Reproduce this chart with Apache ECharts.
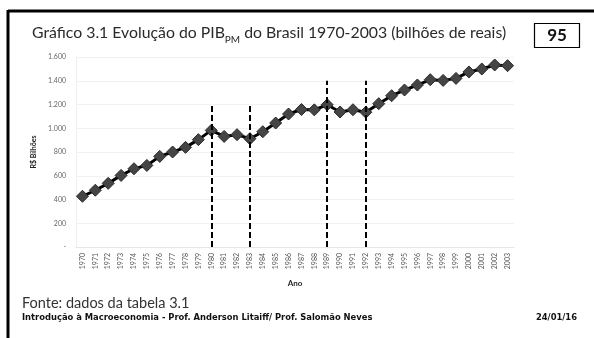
<!DOCTYPE html>
<html>
<head>
<meta charset="utf-8">
<script src="https://cdn.jsdelivr.net/npm/echarts@6/dist/echarts.min.js"></script>
<style>
  html, body { margin: 0; padding: 0; background: #fff; }
  #chart { width: 594px; height: 338px; }
</style>
</head>
<body>
<div id="chart"></div>
<script>
// PIB a preços de mercado, R$ bilhões
const anos = ['1970','1971','1972','1973','1974','1975','1976','1977','1978','1979',
  '1980','1981','1982','1983','1984','1985','1986','1987','1988','1989',
  '1990','1991','1992','1993','1994','1995','1996','1997','1998','1999',
  '2000','2001','2002','2003'];
const pib = [427, 478, 536, 603, 659, 687, 763, 800, 839, 904,
  982, 931, 946, 912, 971, 1044, 1120, 1158, 1155, 1198,
  1137, 1156, 1135, 1207, 1274, 1322, 1364, 1409, 1403, 1420,
  1474, 1499, 1533, 1527];
// Marcos verticais: [ano, altura do traço]
const marcos = [['1980', 1200], ['1983', 1200], ['1989', 1400], ['1992', 1400]];
const yTicks = { min: 0, max: 1600, step: 200 };

const font = 'Lato, "Open Sans", sans-serif';
const wide = '"DejaVu Sans", sans-serif';
const chart = echarts.init(document.getElementById('chart'), null, { renderer: 'canvas' });

function fmtMilhar(v) {
  if (v === 0) return '-';
  return String(v).replace(/\B(?=(\d{3})+(?!\d))/g, '.');
}

chart.setOption({
  animation: false,
  backgroundColor: '#fff',
  grid: { left: 76, right: 80, top: 57, bottom: 91 },
  xAxis: {
    type: 'category',
    data: anos,
    boundaryGap: true,
    name: 'Ano',
    nameLocation: 'middle',
    nameGap: 32,
    nameTextStyle: { fontFamily: font, fontSize: 8, fontWeight: 'bold', color: '#222' },
    axisLine: { lineStyle: { color: '#e6e6e6' } },
    axisTick: { show: false },
    axisLabel: { rotate: 90, interval: 0, fontFamily: font, fontSize: 7, color: '#555', margin: 6 },
    splitLine: { show: false }
  },
  yAxis: {
    type: 'value',
    min: yTicks.min, max: yTicks.max, interval: yTicks.step,
    name: 'R$ Bilhões',
    nameLocation: 'middle',
    nameGap: 33,
    nameRotate: 90,
    nameTextStyle: { fontFamily: font, fontSize: 7, fontWeight: 'bold', color: '#222' },
    axisLine: { show: true, lineStyle: { color: '#f0f0f0' } },
    axisTick: { show: false },
    axisLabel: { fontFamily: font, fontSize: 7, color: '#666', margin: 10, formatter: fmtMilhar },
    splitLine: { lineStyle: { color: '#f2f2f2', width: 1 } }
  },
  series: [{
    type: 'line',
    data: pib,
    symbol: 'diamond',
    symbolSize: 12,
    lineStyle: { color: '#000', width: 3 },
    itemStyle: { color: '#454545', borderColor: '#2a2a2a', borderWidth: 1 },
    z: 3,
    markLine: {
      silent: true,
      symbol: ['none', 'none'],
      label: { show: false },
      lineStyle: { color: '#000', width: 2, type: [6, 3] },
      data: marcos.map(m => [{ coord: [m[0], 0] }, { coord: [m[0], m[1]] }])
    }
  }],
  graphic: [
    // moldura superior e esquerda
    { type: 'line', shape: { x1: 8, y1: 11, x2: 594, y2: 11 }, style: { stroke: '#000', lineWidth: 3 } },
    { type: 'line', shape: { x1: 8, y1: 10, x2: 8, y2: 338 }, style: { stroke: '#000', lineWidth: 3 } },
    {
      type: 'text', left: 32, top: 25,
      style: {
        text: '{a|Gráfico 3.1 Evolução do PIB}{s|PM}{a| do Brasil 1970-2003 (bilhões de reais)}',
        rich: {
          a: { fontFamily: font, fontSize: 15.8, fill: '#2a2a2a', verticalAlign: 'bottom', lineHeight: 20 },
          s: { fontFamily: font, fontSize: 10, fill: '#2a2a2a', verticalAlign: 'bottom', lineHeight: 20, padding: [0, 0, -4, 0] }
        }
      }
    },
    { type: 'rect', shape: { x: 534.5, y: 23.5, width: 45, height: 24 }, style: { fill: '#fff', stroke: '#000', lineWidth: 1.2 } },
    { type: 'text', x: 557, y: 36, style: { text: '95', fontFamily: font, fontSize: 17, fontWeight: 'bold', fill: '#111', align: 'center', verticalAlign: 'middle' } },
    { type: 'text', left: 22, top: 296, style: { text: 'Fonte: dados da tabela 3.1', fontFamily: font, fontSize: 14.5, fill: '#333' } },
    { type: 'text', left: 22, top: 314, style: { text: 'Introdução à Macroeconomia - Prof. Anderson Litaiff/ Prof. Salomão Neves', fontFamily: wide, fontSize: 8.4, fontWeight: 'bold', fill: '#111' } },
    { type: 'text', right: 17, top: 314, style: { text: '24/01/16', fontFamily: wide, fontSize: 8.4, fontWeight: 'bold', fill: '#111' } }
  ]
});
</script>
</body>
</html>
